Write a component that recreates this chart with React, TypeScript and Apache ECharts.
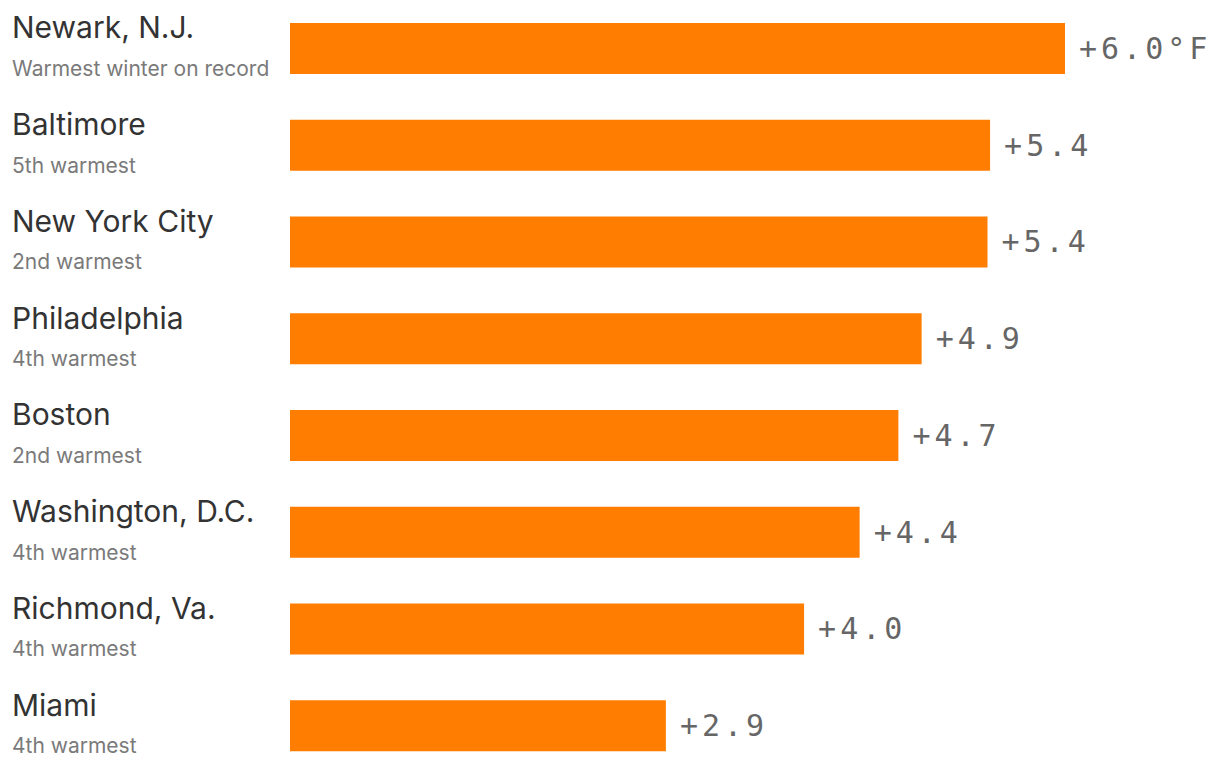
import React, { useEffect, useRef } from "react";
import * as echarts from "echarts";

const cities = [
  "Newark, N.J.",
  "Baltimore",
  "New York City",
  "Philadelphia",
  "Boston",
  "Washington, D.C.",
  "Richmond, Va.",
  "Miami",
];
const ranks = [
  "Warmest winter on record",
  "5th warmest",
  "2nd warmest",
  "4th warmest",
  "2nd warmest",
  "4th warmest",
  "4th warmest",
  "4th warmest",
];
const anomalies = [6.0, 5.42, 5.4, 4.89, 4.71, 4.41, 3.98, 2.91];

export default function App() {
  const ref = useRef<HTMLDivElement>(null);
  useEffect(() => {
    document.body.style.margin = "0";
    const chart = echarts.init(ref.current!, null, { renderer: "svg" });
    chart.setOption({
      animation: false,
      grid: { left: 290, right: 0, top: -1, bottom: 0, containLabel: false },
      xAxis: {
        type: "value",
        min: 0,
        max: 7.2,
        show: false,
      },
      yAxis: {
        type: "category",
        inverse: true,
        data: cities,
        axisLine: { show: false },
        axisTick: { show: false },
        axisLabel: {
          margin: 278,
          align: "left",
          formatter: (v: string, i: number) => `{n|${v}}\n{s|${ranks[i]}}`,
          rich: {
            n: {
              fontFamily: "Inter",
              fontSize: 30,
              color: "#333333",
              lineHeight: 40,
              align: "left",
            },
            s: {
              fontFamily: "Inter",
              fontSize: 21,
              color: "#7a7a7a",
              lineHeight: 42,
              align: "left",
            },
          },
        },
      },
      series: [
        {
          type: "bar",
          data: anomalies,
          barWidth: 51,
          itemStyle: { color: "#ff7d00" },
          label: {
            show: true,
            position: "right",
            distance: 14,
            fontFamily: "DejaVu Sans Mono",
            fontSize: 30,
            color: "#666666",
            formatter: (p: any) =>
              "+" + p.value.toFixed(1) + (p.dataIndex === 0 ? "°F" : ""),
          },
        },
      ],
    });
    return () => chart.dispose();
  }, []);
  return (
    <>
      <style>{`text[style*="Mono"]{letter-spacing:4px;}`}</style>
      <div ref={ref} style={{ width: 1220, height: 774 }} />
    </>
  );
}
